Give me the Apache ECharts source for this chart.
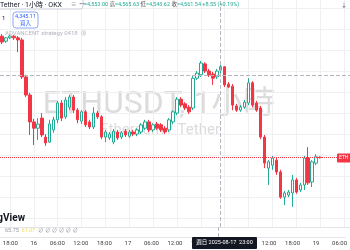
<!DOCTYPE html>
<html><head><meta charset="utf-8">
<script src="https://cdn.jsdelivr.net/npm/echarts@6/dist/echarts.min.js"></script>
<style>html,body{margin:0;padding:0;background:#fff}#c{width:350px;height:250px}</style>
</head><body><div id="c"></div>
<script>
// ETHUSDT 1h candles, starting 2025-08-15 16:00
const openP = [4634,4622,4630,4634,4630,4625,4537,4494,4430,4415,
  4439,4394,4382,4411,4435,4475,4442,4465,4489,4458,
  4432,4454,4430,4418,4451,4442,4394,4392,4382,4406,
  4394,4408,4396,4406,4401,4406,4415,4430,4411,4425,
  4423,4415,4411,4430,4451,4484,4473,4465,4463,4534,
  4542,4568,4551,4544,4537,4553,4561,4520,4515,4468,
  4458,4465,4475,4523,4475,4463,4394,4320,4327,4339,
  4311,4251,4256,4261,4292,4268,4280,4344,4287,4332,
  4346];
const closeP = [4620,4630,4634,4630,4625,4537,4494,4430,4415,4425,
  4399,4380,4425,4435,4475,4439,4482,4489,4458,4435,
  4454,4423,4418,4451,4442,4394,4406,4401,4408,4392,
  4404,4399,4406,4401,4411,4423,4430,4411,4423,4415,
  4411,4406,4435,4454,4484,4470,4463,4454,4534,4546,
  4570,4551,4542,4534,4551,4561.54,4518,4513,4470,4458,
  4465,4477,4523,4470,4458,4394,4332,4335,4344,4311,
  4251,4261,4263,4292,4263,4280,4344,4285,4335,4347,
  4345];
const lowP = [4615,4618,4627,4625,4596,4532,4489,4399,4375,4387,
  4394,4373,4380,4404,4427,4432,4437,4458,4451,4427,
  4425,4418,4413,4413,4437,4389,4382,4387,4377,4387,
  4389,4394,4392,4396,4396,4401,4411,4406,4406,4411,
  4406,4401,4406,4425,4446,4465,4458,4449,4458,4530,
  4537,4546,4537,4518,4532,4543.62,4513,4511,4458,4454,
  4454,4461,4470,4465,4454,4389,4320,4280,4316,4304,
  4247,4232,4251,4228,4259,4263,4268,4280,4275,4327,
  4343];
const highP = [4639,4632,4637,4637,4634,4630,4542,4499,4437,4439,
  4451,4401,4435,4442,4480,4482,4489,4494,4494,4463,
  4458,4458,4435,4465,4456,4446,4411,4406,4413,4411,
  4408,4413,4411,4411,4415,4427,4435,4435,4427,4430,
  4427,4420,4439,4458,4489,4489,4477,4470,4539,4551,
  4575,4572,4556,4549,4556,4565.63,4563,4525,4520,4473,
  4470,4482,4534,4527,4480,4468,4399,4339,4349,4344,
  4316,4266,4268,4304,4297,4285,4349,4370,4339,4353,
  4348];

const startDay = 15, startHour = 16, slotCount = 88;
const crossIndex = 55;      // 2025-08-17 23:00
const crossPrice = 4542;
const lastPrice = 4345;
const indicatorValues = ['65.75', '61.07'];

const categories = [];
for (let k = 0; k < slotCount; k++) {
  const t = startHour + k;
  const day = startDay + Math.floor(t / 24), hour = t % 24;
  categories.push(day + ' ' + String(hour).padStart(2, '0') + ':00');
}
const isTick = (i) => (startHour + i) % 6 === 0;
const tickLabel = (c) => { const p = c.split(' '); return p[1] === '00:00' ? p[0] : p[1]; };
const candles = openP.map((o, i) => [o, closeP[i], lowP[i], highP[i]]);

const F = "Roboto, 'Noto Sans CJK TC', sans-serif";
const GRID = '#eef0f4';
const CROSS = '#b4b7c0';
const chart = echarts.init(document.getElementById('c'), null, {renderer: 'canvas', width: 350, height: 250});
chart.setOption({
  animation: false,
  backgroundColor: '#ffffff',
  grid: [
    {left: 0, top: 0, width: 352, height: 227},
    {left: 0, top: 227, width: 352, height: 10}
  ],
  xAxis: [
    {type: 'category', gridIndex: 0, data: categories, boundaryGap: true,
     axisLine: {show: true, lineStyle: {color: '#e3e5ea'}}, axisTick: {show: false}, axisLabel: {show: false},
     splitLine: {show: true, interval: (i) => isTick(i), alignWithLabel: true, lineStyle: {color: GRID}}},
    {type: 'category', gridIndex: 1, data: categories, boundaryGap: true,
     axisLine: {show: true, lineStyle: {color: '#e3e5ea'}}, axisTick: {show: false},
     axisLabel: {interval: (i) => isTick(i), formatter: tickLabel, fontSize: 6, color: '#3c3c3c', margin: 3, fontFamily: F},
     splitLine: {show: false}}
  ],
  yAxis: [
    {type: 'value', gridIndex: 0, min: 4180, max: 4720, interval: 10, position: 'right',
     axisLine: {show: false}, axisTick: {show: false}, axisLabel: {show: false},
     splitLine: {show: true, lineStyle: {color: ['transparent', 'transparent', GRID, 'transparent', 'transparent']}}},
    {type: 'value', gridIndex: 1, min: 0, max: 1, show: false}
  ],
  series: [
    {type: 'candlestick', xAxisIndex: 0, yAxisIndex: 0, data: candles, barWidth: 3,
     itemStyle: {color: '#ffffff', color0: '#f23645', borderColor: '#22ab94', borderColor0: '#f23645', borderWidth: 1},
     emphasis: {disabled: true},
     markLine: {symbol: ['none', 'none'], silent: true, label: {show: false}, animation: false,
       data: [
         {yAxis: lastPrice, lineStyle: {color: '#f23645', type: 'dotted', width: 1}},
         {yAxis: crossPrice, lineStyle: {color: CROSS, type: 'dashed', width: 1}},
         {xAxis: categories[crossIndex], lineStyle: {color: CROSS, type: 'dashed', width: 1}}
       ]}},
    {type: 'line', xAxisIndex: 1, yAxisIndex: 1, data: categories.map(() => null), showSymbol: false,
     markLine: {symbol: ['none', 'none'], silent: true, label: {show: false}, animation: false,
       data: [{xAxis: categories[crossIndex], lineStyle: {color: CROSS, type: 'dashed', width: 1}}]}}
  ],
  graphic: [
    {type: 'text', z: 0, x: 159, y: 105, style: {text: 'ETHUSDT, 1小時', fill: '#dcdcdc', fontSize: 32, fontFamily: F, align: 'center', verticalAlign: 'middle'}},
    {type: 'text', z: 0, x: 160, y: 130, style: {text: 'Ethereum / Tether', fill: '#dcdcdc', fontSize: 15, fontFamily: F, align: 'center', verticalAlign: 'middle'}},
    {type: 'rect', z: 100, shape: {x: -6, y: -4, width: 89, height: 13, r: 3}, style: {fill: '#ffffff', stroke: '#c9ccd6', lineWidth: 1}},
    {type: 'text', z: 101, x: 0, y: 5, style: {text: 'Tether · 1小時 · OKX', fill: '#131722', fontSize: 7, fontFamily: F, align: 'left', verticalAlign: 'middle'}},
    {type: 'text', z: 101, x: 71, y: 5, style: {text: '≡  •••', fill: '#555', fontSize: 5.5, fontFamily: F, align: 'left', verticalAlign: 'middle'}},
    {type: 'text', z: 101, x: 84, y: 5, style: {
      text: '{v|=4,553.00} {l|高}{v|=4,565.63} {l|低}{v|=4,543.62} {l|收}{v|=4,561.54 +8.55 (+0.19%)}',
      fontSize: 5.5, fontFamily: F, align: 'left', verticalAlign: 'middle',
      rich: {v: {fill: '#22ab94', fontSize: 5.5, fontFamily: F}, l: {fill: '#555', fontSize: 5.5, fontFamily: F}}}},
    {type: 'text', z: 101, x: 2, y: 18, style: {text: '1', fill: '#131722', fontSize: 6, fontFamily: F, align: 'left', verticalAlign: 'middle'}},
    {type: 'rect', z: 100, shape: {x: 13, y: 12, width: 25, height: 16, r: 3}, style: {fill: '#ffffff', stroke: '#8fa8f4', lineWidth: 1}},
    {type: 'text', z: 101, x: 25.5, y: 16.5, style: {text: '4,345.11', fill: '#2962ff', fontSize: 5.5, fontFamily: F, align: 'center', verticalAlign: 'middle'}},
    {type: 'text', z: 101, x: 25.5, y: 23.5, style: {text: '買入', fill: '#2962ff', fontSize: 5.5, fontFamily: F, align: 'center', verticalAlign: 'middle'}},
    {type: 'text', z: 101, x: 5, y: 33, style: {text: 'ADVANCENT strategy 0418  ⊗', fill: '#b2b5be', fontSize: 6, fontFamily: F, align: 'left', verticalAlign: 'middle'}},
    {type: 'text', z: 101, x: 344, y: 5, style: {text: '↓', fill: '#555', fontSize: 6, fontFamily: F, align: 'center', verticalAlign: 'middle'}},
    {type: 'text', z: 101, x: 25, y: 218, style: {text: 'TradingView', fill: '#131722', fontSize: 10, fontWeight: 'bold', fontFamily: F, align: 'right', verticalAlign: 'middle'}},
    {type: 'text', z: 101, x: 5, y: 231, style: {
      text: '{g|' + indicatorValues[0] + '}  {y|' + indicatorValues[1] + '}  {g|∅ ∅ ∅ ∅ ∅ ∅}',
      fontSize: 5.5, fontFamily: F, align: 'left', verticalAlign: 'middle',
      rich: {g: {fill: '#9598a1', fontSize: 5.5, fontFamily: F}, y: {fill: '#f2dc6b', fontSize: 5.5, fontFamily: F}}}},
    {type: 'rect', z: 100, shape: {x: 192, y: 237, width: 65, height: 12, r: 1}, style: {fill: '#131722'}},
    {type: 'text', z: 101, x: 224.5, y: 243, style: {text: '週日 2025-08-17  23:00', fill: '#ffffff', fontSize: 5.5, fontFamily: F, align: 'center', verticalAlign: 'middle'}},
    {type: 'rect', z: 100, shape: {x: 337, y: 153.5, width: 15, height: 9, r: 1}, style: {fill: '#f23645'}},
    {type: 'text', z: 101, x: 339, y: 158, style: {text: 'ETH', fill: '#ffffff', fontSize: 5, fontFamily: F, align: 'left', verticalAlign: 'middle'}}
  ]
});
</script>
</body></html>
